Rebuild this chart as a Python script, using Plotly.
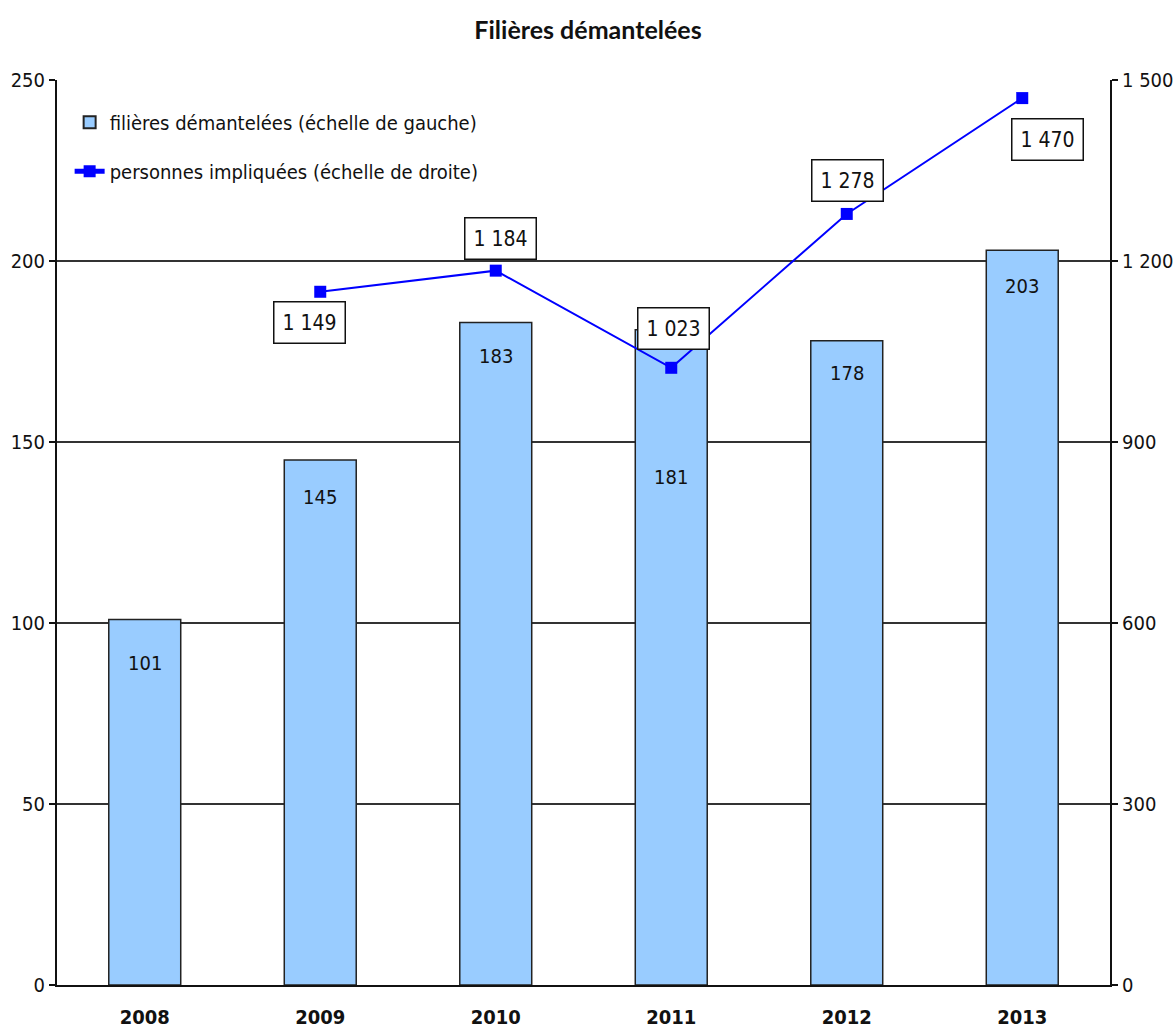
import plotly.graph_objects as go

years = ["2008", "2009", "2010", "2011", "2012", "2013"]
filieres = [101, 145, 183, 181, 178, 203]
years_line = ["2009", "2010", "2011", "2012", "2013"]
personnes = [1149, 1184, 1023, 1278, 1470]

left_ticks = [0, 50, 100, 150, 200, 250]
right_ticks = [0, 300, 600, 900, 1200, 1500]
right_tick_text = ["0", "300", "600", "900", "1 200", "1 500"]


def fr(n):
    return f"{n:,}".replace(",", " ")


NARROW = "Liberation Sans Narrow, Arial Narrow, DejaVu Sans Condensed, sans-serif"

fig = go.Figure()

fig.add_trace(go.Bar(
    x=years, y=filieres,
    name="filières démantelées (échelle de gauche)",
    legendgroup="bars",
    marker=dict(color="#99CCFF", line=dict(color="#222222", width=1.5)),
    width=0.41,
    yaxis="y",
))

fig.add_trace(go.Scatter(
    x=years_line, y=personnes,
    name="personnes impliquées (échelle de droite)",
    legendgroup="line",
    mode="lines+markers",
    line=dict(color="#0000FF", width=2),
    marker=dict(symbol="square", size=12, color="#0000FF"),
    yaxis="y2",
))

# category axis positions (serial numbers) for annotations
pos = {yr: i for i, yr in enumerate(years)}

# value labels inside the bars
bar_label_drop = [44, 37, 33, 147, 32, 36]
for yr, v, d in zip(years, filieres, bar_label_drop):
    fig.add_annotation(
        x=pos[yr], y=v, xref="x", yref="y", text=str(v), showarrow=False,
        yshift=-d, font=dict(family=NARROW, size=20, color="#111111"),
    )

# boxed labels for the line series
line_label_shift = [(-11, -31), (5, 32), (2, 39), (1, 33), (25, -41)]
for yr, v, (dx, dy) in zip(years_line, personnes, line_label_shift):
    fig.add_annotation(
        x=pos[yr], y=v, xref="x", yref="y2", text=fr(v), showarrow=False,
        xshift=dx, yshift=dy,
        font=dict(family=NARROW, size=21, color="#111111"),
        bgcolor="white", bordercolor="#111111", borderwidth=1.5, borderpad=8,
    )

fig.update_layout(
    width=1176, height=1032,
    margin=dict(l=57, r=66, t=80, b=47),
    paper_bgcolor="white", plot_bgcolor="white",
    title=dict(
        text="<b>Filières démantelées</b>",
        x=0.5, xanchor="center", y=0.971, yanchor="middle",
        font=dict(family="Lato, Noto Sans, sans-serif", size=25, color="#111111"),
    ),
    bargap=0.59,
    showlegend=True,
    legend=dict(
        x=0.012, y=0.975, xanchor="left", yanchor="top",
        bgcolor="rgba(0,0,0,0)",
        font=dict(family=NARROW, size=20, color="#111111"),
        tracegroupgap=20, itemsizing="constant",
    ),
    xaxis=dict(
        type="category", automargin=False,
        showgrid=False, showline=True, linecolor="#111111", linewidth=2,
        ticks="", ticklabelstandoff=13,
        tickfont=dict(family=NARROW, size=20, color="#111111", weight="bold"),
        range=[-0.5, 5.5],
    ),
    yaxis=dict(
        range=[0, 250], tickvals=left_ticks, automargin=False,
        showgrid=True, gridcolor="#333333", gridwidth=1.5,
        showline=True, linecolor="#111111", linewidth=2,
        ticks="outside", ticklen=6, tickcolor="#111111", tickwidth=1.5,
        tickfont=dict(family=NARROW, size=20, color="#111111"),
        zeroline=False,
    ),
    yaxis2=dict(
        range=[0, 1500], tickvals=right_ticks, ticktext=right_tick_text,
        overlaying="y", side="right", automargin=False,
        showgrid=False, showline=True, linecolor="#111111", linewidth=2,
        ticks="outside", ticklen=6, tickcolor="#111111", tickwidth=1.5,
        tickfont=dict(family=NARROW, size=20, color="#111111"),
        zeroline=False,
    ),
)

fig.write_html("out.html")
